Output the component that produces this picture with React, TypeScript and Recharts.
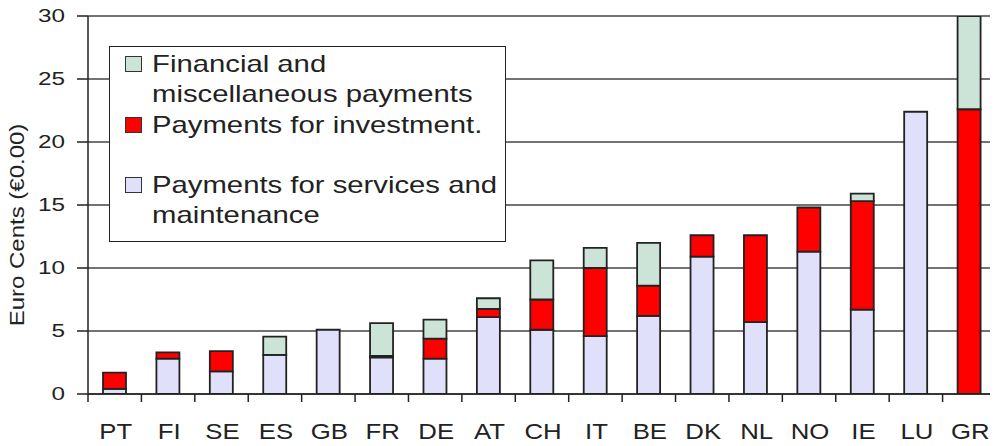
import React from 'react';
import { BarChart, Bar, XAxis, YAxis, CartesianGrid, Legend } from 'recharts';

const categories = ['PT', 'FI', 'SE', 'ES', 'GB', 'FR', 'DE', 'AT', 'CH', 'IT', 'BE', 'DK', 'NL', 'NO', 'IE', 'LU', 'GR'];
const servicesValues = [0.4, 2.8, 1.8, 3.1, 5.1, 2.9, 2.8, 6.1, 5.1, 4.6, 6.2, 10.9, 5.7, 11.3, 6.7, 22.4, 0];
const investmentValues = [1.3, 0.5, 1.6, 0, 0, 0.12, 1.6, 0.65, 2.4, 5.4, 2.4, 1.7, 6.9, 3.5, 8.6, 0, 22.6];
const financialValues = [0, 0, 0, 1.45, 0, 2.6, 1.5, 0.85, 3.1, 1.6, 3.4, 0, 0, 0, 0.6, 0, 8.0];
const yTicks = [0, 5, 10, 15, 20, 25, 30];

const seriesKeys = ['services', 'investment', 'financial'];
const seriesNames = ['Payments for services and\nmaintenance', 'Payments for investment.', 'Financial and\nmiscellaneous payments'];
const seriesColors = ['#E0E0FA', '#FF0000', '#CCE4D8'];

const FONT = '"Liberation Sans", Arial, sans-serif';
const INK = '#222';

const data = categories.map((c, i) => ({
  country: c,
  services: servicesValues[i],
  investment: investmentValues[i],
  financial: financialValues[i],
}));

const series = seriesKeys.map((k, i) => ({ key: k, name: seriesNames[i], color: seriesColors[i] }));
const legendOrder = [...series].reverse();
const legendGaps = [2, 1, 30];

const XTick = (props: any) => {
  const { x, y, payload, index } = props;
  const half = payload && payload.offset ? payload.offset : 26.7;
  const last = index === categories.length - 1;
  return (
    <g>
      <line x1={x - half} x2={x - half} y1={y - 8} y2={y} stroke={INK} strokeWidth={1.5} />
      {last ? <line x1={x + half} x2={x + half} y1={y - 8} y2={y} stroke={INK} strokeWidth={1.5} /> : null}
      <text
        transform={`translate(${x + 1}, ${y + 37}) scale(1.12, 1)`}
        textAnchor="middle"
        fill={INK}
        fontFamily={FONT}
        fontSize={23}
      >
        {payload.value}
      </text>
    </g>
  );
};

const YTick = (props: any) => {
  const { x, y, payload } = props;
  return (
    <text
      transform={`translate(${x}, ${y}) scale(1.35, 1)`}
      textAnchor="end"
      dy="0.355em"
      fill={INK}
      fontFamily={FONT}
      fontSize={18}
    >
      {payload.value}
    </text>
  );
};

const YTitle = (props: any) => {
  const vb = props.viewBox || { x: 0, y: 8, width: 80, height: 378 };
  const cx = vb.x + 9;
  const cy = vb.y + vb.height / 2 + 20;
  return (
    <text
      transform={`translate(${cx}, ${cy}) rotate(-90) scale(1.2, 1)`}
      textAnchor="middle"
      dominantBaseline="central"
      fill={INK}
      fontFamily={FONT}
      fontSize={20}
    >
      Euro Cents (€0.00)
    </text>
  );
};

const LegendBox = () => (
  <div
    style={{
      border: `1.5px solid ${INK}`,
      background: '#fff',
      width: 397,
      height: 196,
      boxSizing: 'border-box',
      paddingLeft: 14.5,
      fontFamily: FONT,
      fontSize: 24,
      lineHeight: '30px',
      color: INK,
      textAlign: 'left',
      overflow: 'hidden',
    }}
  >
    {legendOrder.map((s, i) => (
      <div key={s.key} style={{ display: 'flex', alignItems: 'flex-start', marginTop: legendGaps[i] }}>
        <span
          style={{
            width: 17,
            height: 16,
            border: '1.5px solid #333',
            background: s.color,
            marginTop: 7,
            marginRight: 10,
            flexShrink: 0,
            boxSizing: 'border-box',
            display: 'inline-block',
          }}
        />
        <span
          style={{
            whiteSpace: 'pre-line',
            display: 'inline-block',
            transform: 'scaleX(1.22)',
            transformOrigin: 'left top',
          }}
        >
          {s.name}
        </span>
      </div>
    ))}
  </div>
);

export default function App() {
  return (
    <BarChart
      width={990}
      height={438}
      data={data}
      margin={{ top: 8, right: 2, bottom: 0, left: 0 }}
      barSize={23}
    >
      <CartesianGrid vertical={false} stroke="#444" strokeWidth={1.3} />
      <XAxis
        dataKey="country"
        height={52}
        tickLine={false}
        tickSize={8}
        tickMargin={0}
        axisLine={{ stroke: INK, strokeWidth: 1.5 }}
        tick={<XTick />}
        interval={0}
      />
      <YAxis
        width={80}
        domain={[0, 30]}
        ticks={yTicks}
        allowDataOverflow
        interval={0}
        tickSize={11}
        tickMargin={12}
        tickLine={{ stroke: INK, strokeWidth: 1.5 }}
        axisLine={{ stroke: INK, strokeWidth: 1.5 }}
        tick={<YTick />}
        label={<YTitle />}
      />
      <Legend
        layout="vertical"
        align="center"
        verticalAlign="middle"
        content={<LegendBox />}
        wrapperStyle={{ left: 101, top: 38, width: 397, height: 196 }}
      />
      {series.map((s) => (
        <Bar
          key={s.key}
          dataKey={s.key}
          name={s.name}
          stackId="a"
          fill={s.color}
          stroke={INK}
          strokeWidth={1.8}
          isAnimationActive={false}
        />
      ))}
    </BarChart>
  );
}
